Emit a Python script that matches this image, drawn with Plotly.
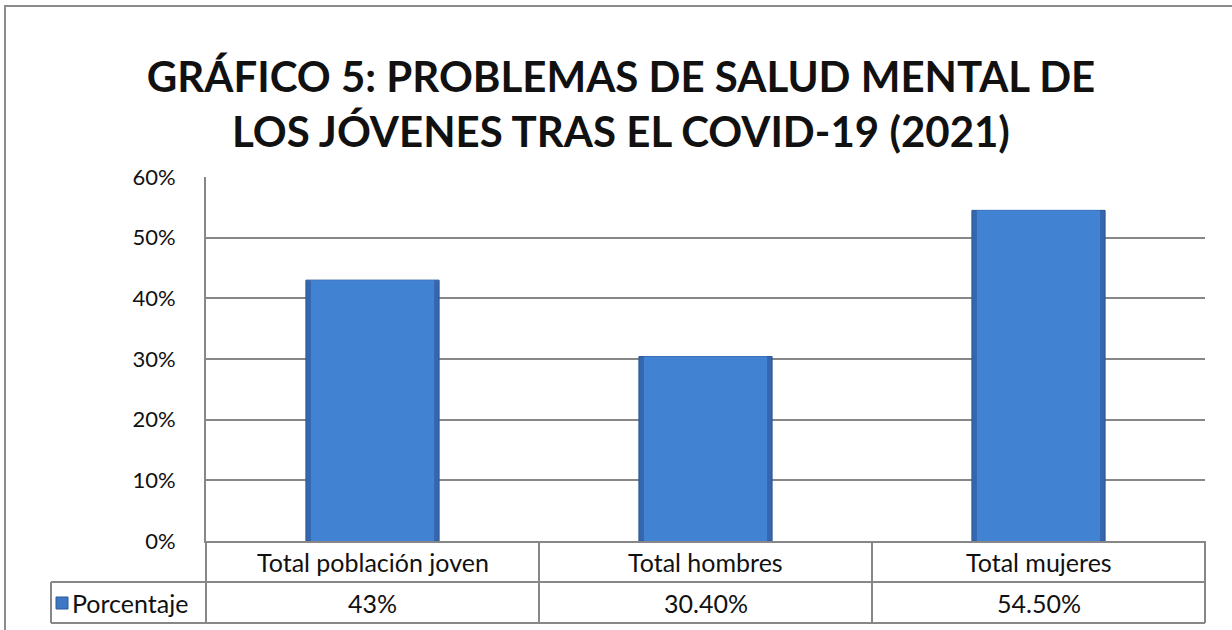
import plotly.graph_objects as go

# data
categories = ["Total población joven", "Total hombres", "Total mujeres"]
values = [0.43, 0.304, 0.545]
value_labels = ["43%", "30.40%", "54.50%"]
series_name = "Porcentaje"
title = "GRÁFICO 5: PROBLEMAS DE SALUD MENTAL DE<br>LOS JÓVENES TRAS EL COVID-19 (2021)"

W, H = 1232, 630
L, R, T, B = 206, 27, 177, 89
PW, PH = W - L - R, H - T - B
GRID = "#878787"
FONT = "Lato"
TXT = "#111111"


def px(x):
    return (x - L) / PW


def py(y):
    return (H - B - y) / PH


fig = go.Figure()
# two layers to fake the bevel look of the excel bars
fig.add_trace(go.Bar(x=categories, y=values, width=0.40, name=series_name,
                     marker=dict(color="#3567AE", line=dict(color="#2C5793", width=1)),
                     showlegend=False, hoverinfo="skip"))
fig.add_trace(go.Bar(x=categories, y=values, width=0.37, name=series_name,
                     marker=dict(color="#4282D3", line=dict(width=0)),
                     showlegend=False))

shapes = []
line = dict(color=GRID, width=2)
# data table under the plot
y_top, y_mid, y_bot = 541, 582, 623
shapes.append(dict(type="line", xref="paper", yref="paper", x0=px(51), x1=px(1205), y0=py(y_mid), y1=py(y_mid), line=line))
shapes.append(dict(type="line", xref="paper", yref="paper", x0=px(51), x1=px(1205), y0=py(y_bot), y1=py(y_bot), line=line))
shapes.append(dict(type="line", xref="paper", yref="paper", x0=px(51), x1=px(51), y0=py(y_mid), y1=py(y_bot), line=line))
for i in range(len(categories) + 1):
    xx = i / len(categories)
    shapes.append(dict(type="line", xref="paper", yref="paper", x0=xx, x1=xx, y0=py(y_top), y1=py(y_bot), line=line))
# legend key
shapes.append(dict(type="rect", xref="paper", yref="paper", x0=px(56), x1=px(68), y0=py(597), y1=py(609),
                   fillcolor="#3E78C4", line=dict(color="#2B5A96", width=1)))
# outer chart border
shapes.append(dict(type="rect", xref="paper", yref="paper", x0=px(5), x1=px(1240), y0=py(6), y1=py(660),
                   line=dict(color="#8C8C8C", width=2), fillcolor="rgba(0,0,0,0)", layer="below"))

annotations = []
for cat, lab in zip(categories, value_labels):
    annotations.append(dict(x=cat, xref="x", y=py((y_top + y_mid) / 2), yref="paper", text=cat,
                            xanchor="center", yanchor="middle", showarrow=False,
                            font=dict(size=25, color=TXT, family=FONT)))
    annotations.append(dict(x=cat, xref="x", y=py((y_mid + y_bot) / 2), yref="paper", text=lab,
                            xanchor="center", yanchor="middle", showarrow=False,
                            font=dict(size=25, color=TXT, family=FONT)))
annotations.append(dict(x=px(70), xref="paper", y=py((y_mid + y_bot) / 2), yref="paper", text=series_name,
                        xanchor="left", yanchor="middle", showarrow=False,
                        font=dict(size=25, color=TXT, family=FONT)))

fig.update_layout(
    width=W, height=H,
    margin=dict(l=L, r=R, t=T, b=B),
    paper_bgcolor="white", plot_bgcolor="white",
    barmode="overlay",
    title=dict(text=title, x=621 / W, xref="container", xanchor="center", y=1 - 92 / H, yref="container",
               yanchor="middle", font=dict(size=42, color=TXT, family=FONT, weight="bold")),
    xaxis=dict(showticklabels=False, showgrid=False, showline=True, linecolor=GRID, linewidth=2,
               ticks="", zeroline=False),
    yaxis=dict(range=[0, 0.6], dtick=0.1, tickformat=".0%", showgrid=True, gridcolor=GRID, gridwidth=2,
               showline=True, linecolor=GRID, linewidth=2, zeroline=False, ticks="",
               ticklabelstandoff=24, tickfont=dict(size=22, color=TXT, family=FONT)),
    shapes=shapes,
    annotations=annotations,
)

fig.write_html("out.html", config={"displayModeBar": False},
               post_script="document.body.style.margin = '0';")
